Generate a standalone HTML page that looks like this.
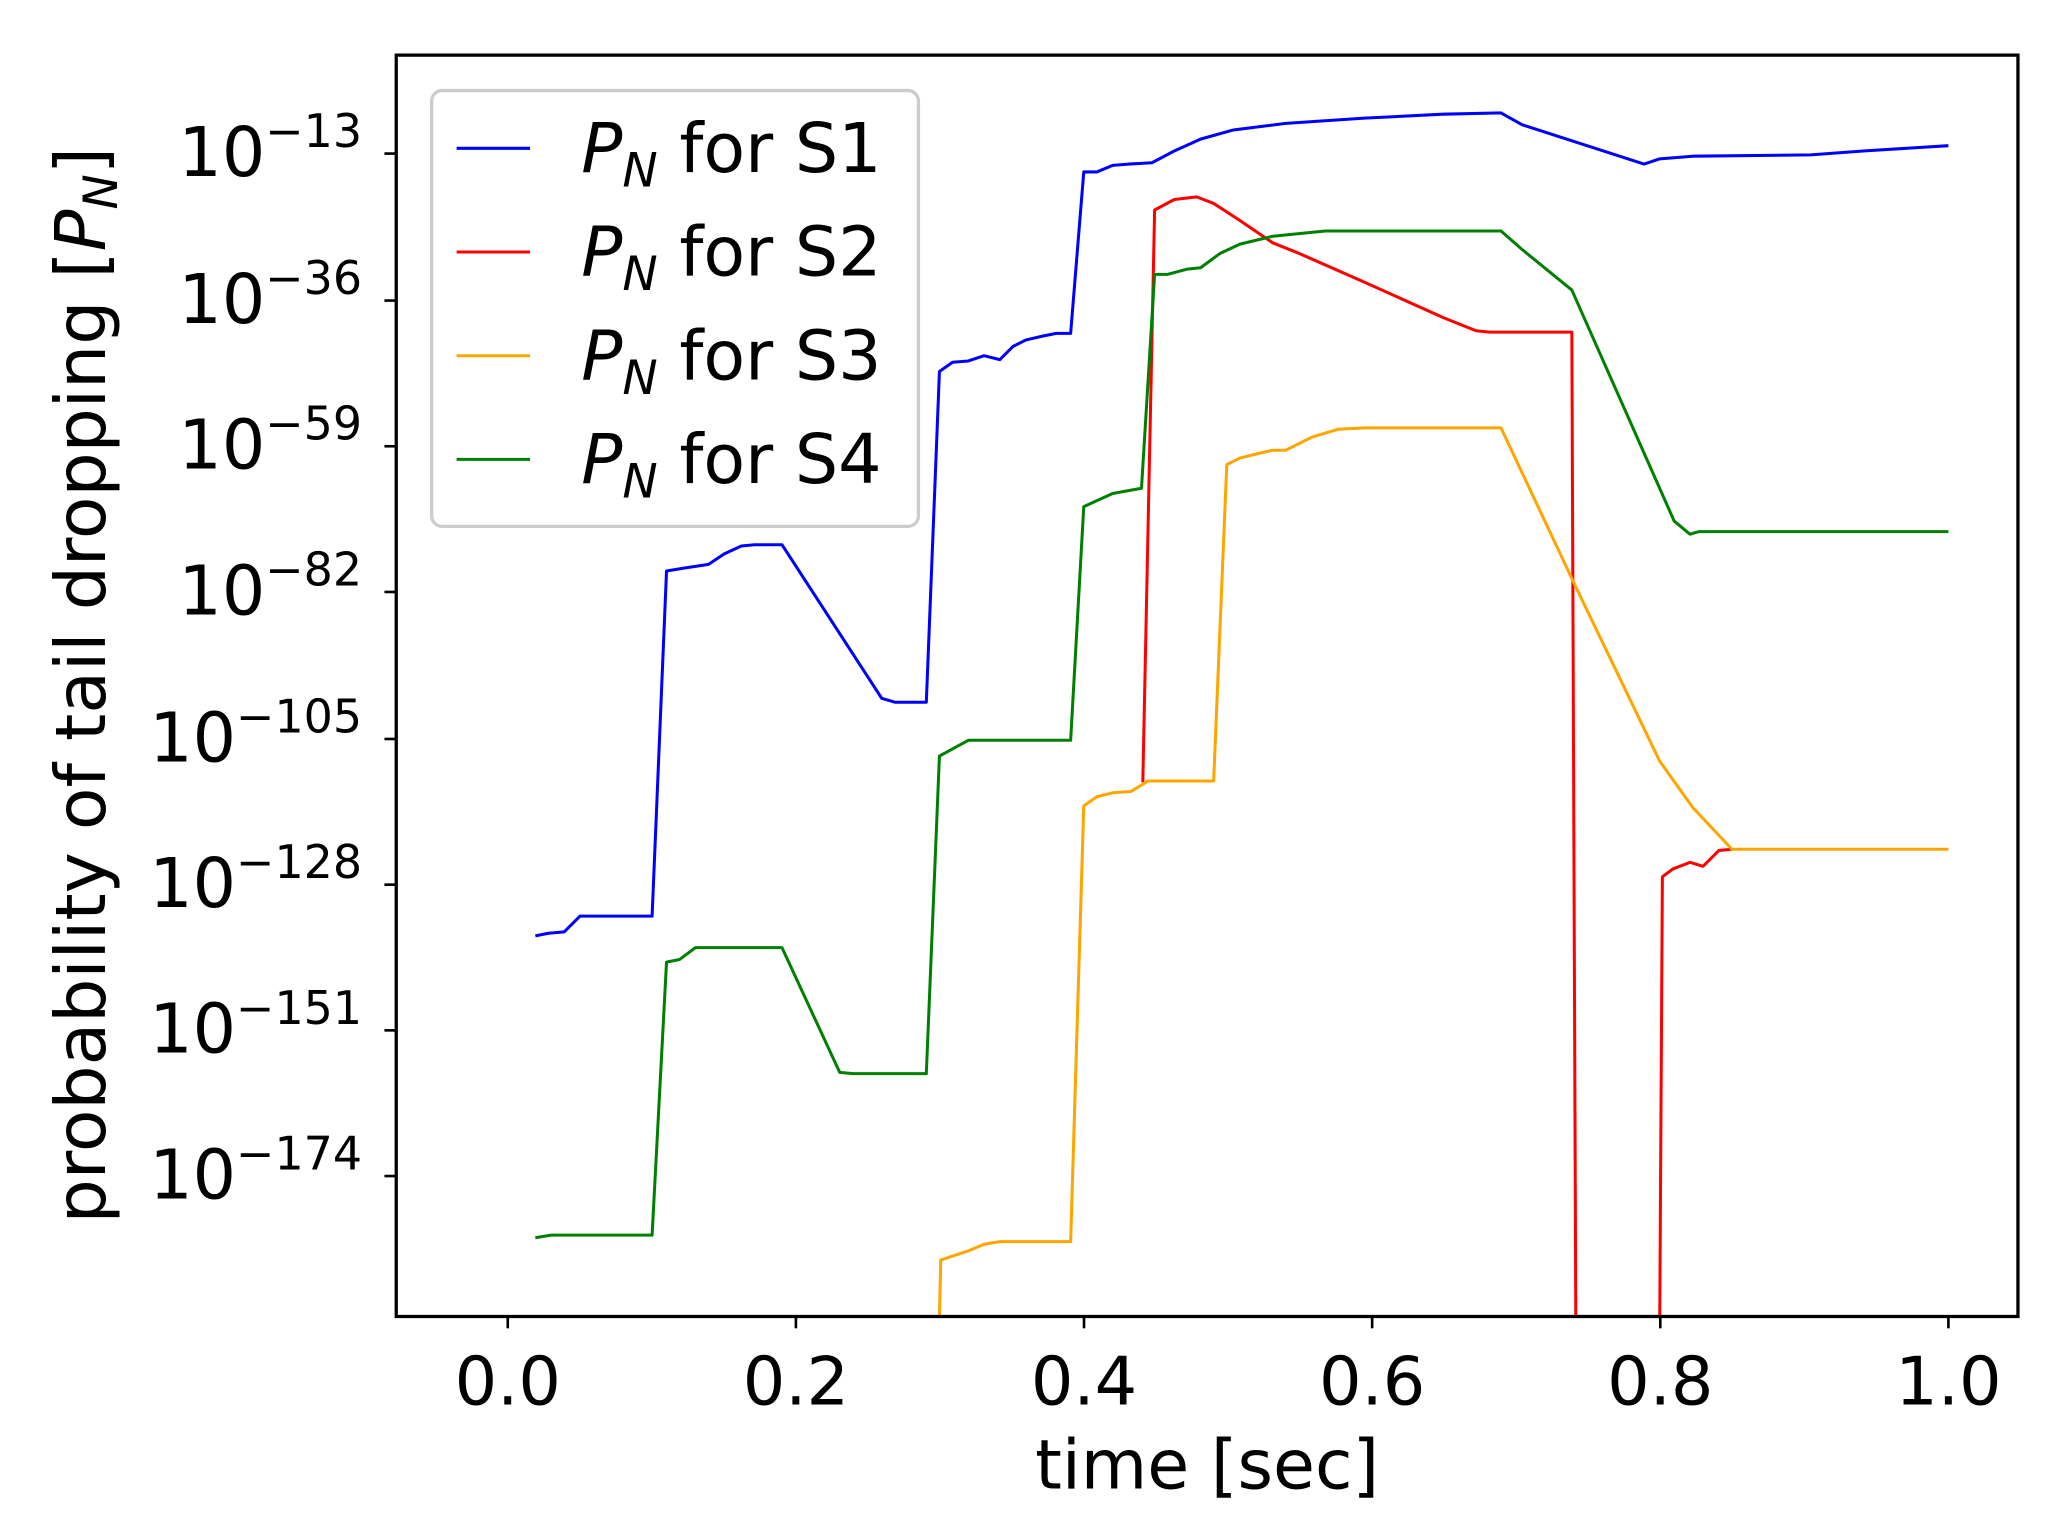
<!DOCTYPE html>
<html><head><style>body{margin:0;background:#fff}svg{display:block}</style></head><body>
<svg width="2056" height="1537" viewBox="0 0 1567 1171" preserveAspectRatio="none" xmlns="http://www.w3.org/2000/svg" font-family="DejaVu Sans, Liberation Sans, sans-serif">
<rect width="1567" height="1171" fill="#fff"/>
<g fill="none" stroke-width="2.3" stroke-linejoin="round">
<polyline stroke="#0000ff" points="408,713 418,711 430,710 442,698 497,698 508,435 520,433 540,430 552,422 565,416 575,415 596,415 672,532 682,535 706,535 716,283 726,276 738,275 750,271 762,274 772,264 782,259 795,256 805,254 816,254 826,131 836,131 848,126 860,125 878,124 895,115 915,106 940,99 980,94 1040,90 1100,87 1144,86 1160,95 1253,125 1265,121 1290,119 1380,118 1420,115 1485,111"/>
<polyline stroke="#ff0000" points="871,596 880,160 895,152 912,150 925,155 945,168 970,185 990,193 1040,215 1100,242 1125,252 1135,253 1198,253 1201,1003"/>
<polyline stroke="#ff0000" points="1265,1003 1267,668 1275,662 1288,657 1298,660 1310,648 1320,647"/>
<polyline stroke="#ffa500" points="716,1003 717,960 726,957 738,953 750,948 762,946 816,946 826,614 836,607 848,604 862,603 875,595 925,595 935,354 945,349 957,346 970,343 980,343 1000,333 1020,327 1040,326 1144,326 1200,445 1265,580 1290,615 1320,647 1485,647"/>
<polyline stroke="#008000" points="408,943 420,941 497,941 508,733 518,731 530,722 596,722 640,817 650,818 706,818 716,576 738,564 816,564 826,386 848,376 870,372 880,209 890,209 905,205 915,204 930,193 945,186 970,180 1010,176 1144,176 1160,190 1198,221 1276,397 1288,407 1295,405 1485,405"/>
</g>
<rect x="302" y="42" width="1236" height="961" fill="none" stroke="#000" stroke-width="2.5"/>
<g stroke="#000" stroke-width="2">
<line x1="387" y1="1003" x2="387" y2="1012"/><line x1="606.6" y1="1003" x2="606.6" y2="1012"/><line x1="826.2" y1="1003" x2="826.2" y2="1012"/><line x1="1045.8" y1="1003" x2="1045.8" y2="1012"/><line x1="1265.4" y1="1003" x2="1265.4" y2="1012"/><line x1="1485" y1="1003" x2="1485" y2="1012"/>
<line x1="293" y1="117" x2="302" y2="117"/><line x1="293" y1="229" x2="302" y2="229"/><line x1="293" y1="340" x2="302" y2="340"/><line x1="293" y1="451" x2="302" y2="451"/><line x1="293" y1="563" x2="302" y2="563"/><line x1="293" y1="674" x2="302" y2="674"/><line x1="293" y1="785" x2="302" y2="785"/><line x1="293" y1="896" x2="302" y2="896"/>
</g>
<g font-size="51" text-anchor="middle" fill="#000">
<text x="387" y="1070">0.0</text><text x="606.6" y="1070">0.2</text><text x="826.2" y="1070">0.4</text><text x="1045.8" y="1070">0.6</text><text x="1265.4" y="1070">0.8</text><text x="1485" y="1070">1.0</text>
<text x="920" y="1134" font-size="52">time [sec]</text>
</g>
<g font-size="52" text-anchor="end" fill="#000">
<text x="276" y="134"><tspan>10</tspan><tspan font-size="35" dy="-22">−13</tspan></text>
<text x="276" y="246"><tspan>10</tspan><tspan font-size="35" dy="-22">−36</tspan></text>
<text x="276" y="357"><tspan>10</tspan><tspan font-size="35" dy="-22">−59</tspan></text>
<text x="276" y="468"><tspan>10</tspan><tspan font-size="35" dy="-22">−82</tspan></text>
<text x="276" y="580"><tspan>10</tspan><tspan font-size="35" dy="-22">−105</tspan></text>
<text x="276" y="691"><tspan>10</tspan><tspan font-size="35" dy="-22">−128</tspan></text>
<text x="276" y="802"><tspan>10</tspan><tspan font-size="35" dy="-22">−151</tspan></text>
<text x="276" y="913"><tspan>10</tspan><tspan font-size="35" dy="-22">−174</tspan></text>
</g>
<text transform="translate(80,522) rotate(-90)" font-size="53" text-anchor="middle">probability of tail dropping [<tspan font-style="italic">P</tspan><tspan font-style="italic" font-size="36" dy="9">N</tspan><tspan dy="-9">]</tspan></text>
<rect x="329" y="69" width="371" height="332" rx="8" fill="#fff" fill-opacity="0.8" stroke="#ccc" stroke-width="2.5"/>
<g stroke-width="2.3">
<line x1="348" y1="113" x2="404" y2="113" stroke="#0000ff"/>
<line x1="348" y1="192" x2="404" y2="192" stroke="#ff0000"/>
<line x1="348" y1="271" x2="404" y2="271" stroke="#ffa500"/>
<line x1="348" y1="350" x2="404" y2="350" stroke="#008000"/>
</g>
<g font-size="52" fill="#000">
<text x="443" y="131"><tspan font-style="italic">P</tspan><tspan font-style="italic" font-size="36" dy="11">N</tspan><tspan dy="-11"> for S1</tspan></text>
<text x="443" y="210"><tspan font-style="italic">P</tspan><tspan font-style="italic" font-size="36" dy="11">N</tspan><tspan dy="-11"> for S2</tspan></text>
<text x="443" y="289"><tspan font-style="italic">P</tspan><tspan font-style="italic" font-size="36" dy="11">N</tspan><tspan dy="-11"> for S3</tspan></text>
<text x="443" y="368"><tspan font-style="italic">P</tspan><tspan font-style="italic" font-size="36" dy="11">N</tspan><tspan dy="-11"> for S4</tspan></text>
</g>
</svg>
</body></html>
